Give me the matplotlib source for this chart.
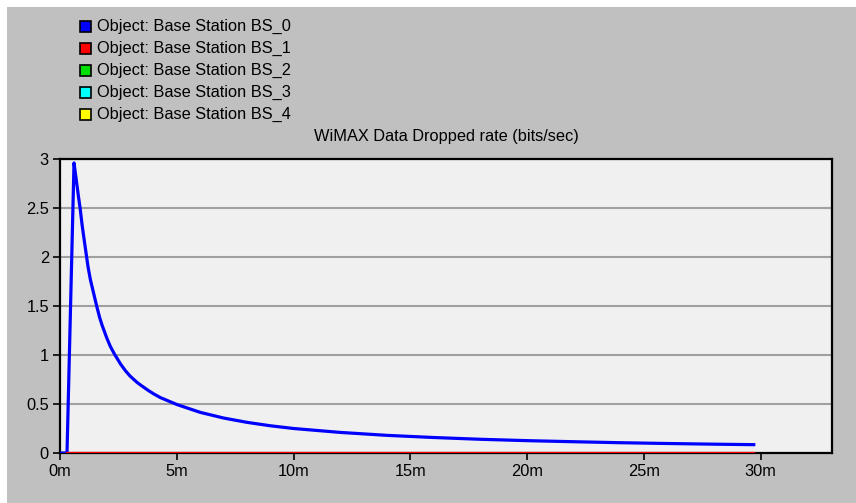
import matplotlib.pyplot as plt
from matplotlib.patches import Rectangle

# Simulation time (minutes) and dropped-data rate read from the run
t_bs0 = [0, 0.3, 0.6, 0.7, 0.8, 0.86, 0.95, 1.05, 1.14, 1.2, 1.3, 1.4, 1.57,
         1.7, 1.8, 2.0, 2.15, 2.33, 2.6, 2.8, 3.0, 3.3, 3.5, 3.8, 4.0, 4.3,
         4.5, 5.0, 6.0, 7.0, 8.0, 9.0, 10.0, 12.0, 14.0, 16.0, 18.0, 20.0,
         22.0, 24.0, 26.0, 28.0, 29.7]
rate_bs0 = [0, 0, 2.96, 2.78, 2.6, 2.5, 2.32, 2.15, 2.0, 1.9, 1.77, 1.67, 1.5,
            1.38, 1.305, 1.175, 1.09, 1.01, 0.905, 0.84, 0.785, 0.72, 0.685,
            0.635, 0.605, 0.565, 0.545, 0.495, 0.415, 0.357, 0.313, 0.278,
            0.25, 0.21, 0.18, 0.158, 0.14, 0.126, 0.115, 0.105, 0.097, 0.09,
            0.085]
t_bs1 = [0.3, 29.7]
rate_bs1 = [0, 0]

series_names = ["Object: Base Station BS_0", "Object: Base Station BS_1",
                "Object: Base Station BS_2", "Object: Base Station BS_3",
                "Object: Base Station BS_4"]
series_colors = ["#0000ff", "#ff0000", "#00e000", "#00ffff", "#ffff00"]

x_ticks = [0, 5, 10, 15, 20, 25, 30]
x_labels = ["0m", "5m", "10m", "15m", "20m", "25m", "30m"]
y_ticks = [0, 0.5, 1, 1.5, 2, 2.5, 3]
y_labels = ["0", "0.5", "1", "1.5", "2", "2.5", "3"]

W, H = 856, 503
plt.rcParams['font.family'] = ['Liberation Sans', 'DejaVu Sans']
FS = 11.8

fig = plt.figure(figsize=(W / 100, H / 100), dpi=100, facecolor="white")
# grey panel with a thin white margin on top and left
fig.add_artist(Rectangle((7 / W, 0), 1 - 7 / W, 1 - 7 / H, transform=fig.transFigure,
                         facecolor="#c0c0c0", edgecolor="none", zorder=-10))

ax = fig.add_axes([60 / W, 1 - 453 / H, (832 - 60) / W, (453 - 159) / H])
ax.set_facecolor("#f0f0f0")

ax.plot(t_bs0, rate_bs0, color=series_colors[0], lw=2.3, zorder=3)
ax.plot(t_bs1, rate_bs1, color=series_colors[1], lw=1.6, zorder=4)

ax.set_xlim(0, 33.05)
ax.set_ylim(0, 3)
ax.set_xticks(x_ticks)
ax.set_xticklabels(x_labels)
ax.set_yticks(y_ticks)
ax.set_yticklabels(y_labels)
ax.yaxis.grid(True, color="#a0a0a0", lw=1.5)
ax.set_axisbelow(True)
ax.tick_params(axis="both", direction="out", length=5, width=1.2, colors="black",
               labelsize=FS, pad=3)
for s in ax.spines.values():
    s.set_color("black")
    s.set_linewidth(1.6)

ax.set_title("WiMAX Data Dropped rate (bits/sec)", fontsize=FS, pad=13)

# legend block in the top-left corner
for i, (name, col) in enumerate(zip(series_names, series_colors)):
    yc = 26.7 + i * 22
    fig.add_artist(Rectangle((80 / W, 1 - (yc + 5.5) / H), 11 / W, 11 / H,
                             transform=fig.transFigure, facecolor=col,
                             edgecolor="black", lw=1.2))
    fig.text(97 / W, 1 - yc / H, name, fontsize=FS, va="center", ha="left")

fig.savefig("out.png", dpi=100, facecolor=fig.get_facecolor())
